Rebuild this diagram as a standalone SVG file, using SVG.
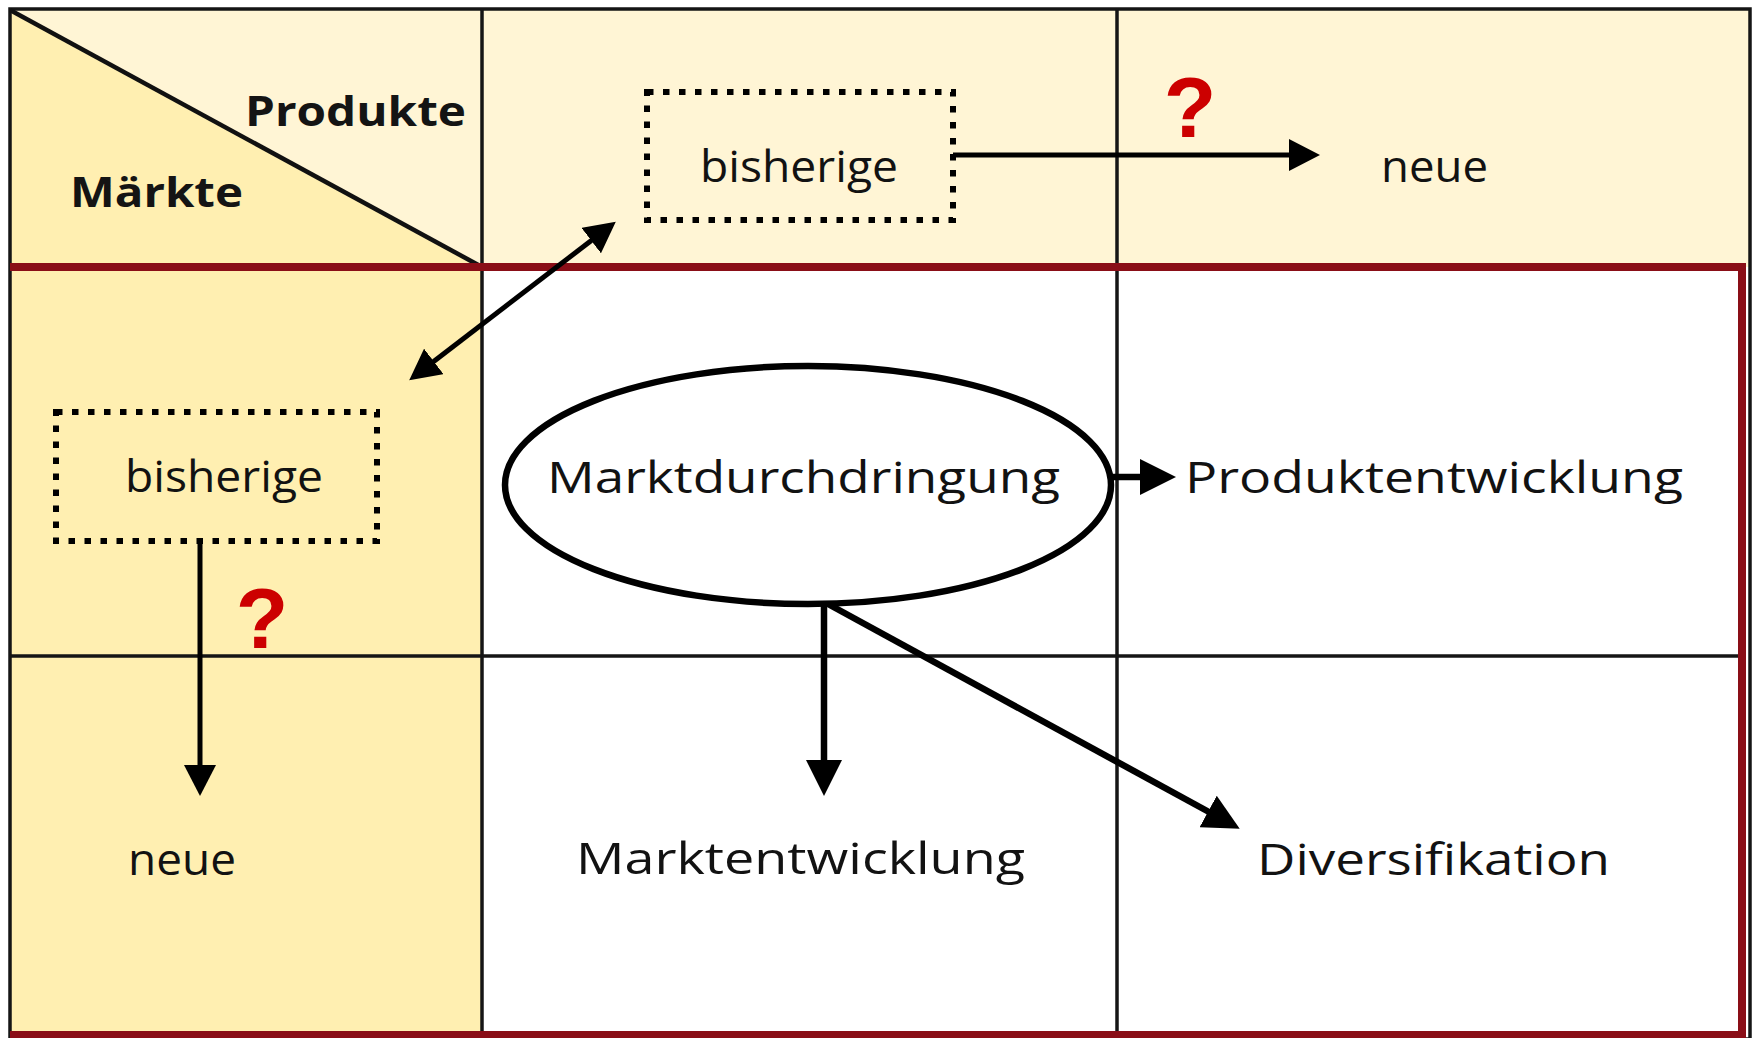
<svg xmlns="http://www.w3.org/2000/svg" width="1753" height="1038" viewBox="0 0 1753 1038">
<defs>
<style>
.grid{stroke:#151515;stroke-width:3.5;fill:none}
.diag{stroke:#111;stroke-width:4.5;fill:none}
.red{stroke:#8A0E17;stroke-width:8;fill:none}
.dot{fill:none;stroke:#000;stroke-width:6;stroke-dasharray:6.5 9.5}
.lbl{font-family:"Open Sans","Noto Sans","Liberation Sans",sans-serif;font-size:43px;font-weight:500;fill:#121212}
.hdr{font-family:"Open Sans","Noto Sans","Liberation Sans",sans-serif;font-size:42px;font-weight:700;fill:#141414}
.q{font-family:"Liberation Sans",Arial,sans-serif;font-size:86px;font-weight:700;fill:#CC0000;text-anchor:middle}
.c{stroke:#000;fill:none;stroke-width:5}
.cb{stroke:#000;fill:none;stroke-width:6.5}
</style>
<marker id="ah" markerUnits="userSpaceOnUse" markerWidth="31" markerHeight="32" viewBox="0 0 31 32" refX="1" refY="16" orient="auto-start-reverse"><path d="M0,0 L31,16 L0,32 z" fill="#000"/></marker>
<marker id="ahL" markerUnits="userSpaceOnUse" markerWidth="36" markerHeight="36" viewBox="0 0 36 36" refX="1" refY="18" orient="auto"><path d="M0,0 L36,18 L0,36 z" fill="#000"/></marker>
</defs>

<g id="background">
<rect x="0" y="0" width="1753" height="1038" fill="#ffffff"/>
<rect x="10" y="9" width="1740" height="258" fill="#FFF5D5"/>
<rect x="10" y="267" width="472" height="769" fill="#FFEFB1"/>
<polygon points="10,9 482,267 10,267" fill="#FFEFB1"/>
</g>

<g id="grid">
<rect class="grid" x="10" y="9" width="1740" height="1030"/>
<line class="grid" x1="482" y1="9" x2="482" y2="1038"/>
<line class="grid" x1="1117" y1="9" x2="1117" y2="1038"/>
<line class="grid" x1="10" y1="656" x2="1742" y2="656"/>
<line class="diag" x1="10" y1="10" x2="482" y2="267"/>
<polyline class="red" points="10,267 1742,267 1742,1035 10,1035"/>
</g>

<g id="header">
<text class="hdr" x="245" y="126" textLength="221" lengthAdjust="spacingAndGlyphs">Produkte</text>
<text class="hdr" x="70" y="207" textLength="173" lengthAdjust="spacingAndGlyphs">Märkte</text>
</g>

<g id="node-produkte-bisherige">
<rect class="dot" x="647" y="92" width="306" height="128"/>
<text class="lbl" x="700" y="182" textLength="198" lengthAdjust="spacingAndGlyphs">bisherige</text>
</g>

<g id="node-produkte-neue">
<text class="lbl" x="1381" y="182" textLength="107" lengthAdjust="spacingAndGlyphs">neue</text>
</g>

<g id="node-maerkte-bisherige">
<rect class="dot" x="56" y="412" width="321" height="129"/>
<text class="lbl" x="125" y="492" textLength="198" lengthAdjust="spacingAndGlyphs">bisherige</text>
</g>

<g id="node-maerkte-neue">
<text class="lbl" x="128" y="875" textLength="108" lengthAdjust="spacingAndGlyphs">neue</text>
</g>

<g id="node-marktdurchdringung">
<ellipse cx="808" cy="485" rx="303" ry="119" fill="#ffffff" stroke="#000" stroke-width="6.5"/>
<text class="lbl" x="547" y="493" textLength="513" lengthAdjust="spacingAndGlyphs">Marktdurchdringung</text>
</g>

<g id="node-produktentwicklung">
<text class="lbl" x="1185" y="493" textLength="498" lengthAdjust="spacingAndGlyphs">Produktentwicklung</text>
</g>

<g id="node-marktentwicklung">
<text class="lbl" x="576" y="874" textLength="449" lengthAdjust="spacingAndGlyphs">Marktentwicklung</text>
</g>

<g id="node-diversifikation">
<text class="lbl" x="1257" y="875" textLength="353" lengthAdjust="spacingAndGlyphs">Diversifikation</text>
</g>

<g id="questions">
<text class="q" x="1190" y="137">?</text>
<text class="q" x="262" y="648">?</text>
</g>

<g id="connectors">
<line class="c" x1="953" y1="155" x2="1290" y2="155" marker-end="url(#ah)"/>
<line class="c" x1="592" y1="240" x2="433" y2="362" marker-start="url(#ah)" marker-end="url(#ah)"/>
<line class="c" x1="200" y1="541" x2="200" y2="766" marker-end="url(#ah)"/>
<line class="cb" x1="1111" y1="477" x2="1141" y2="477" marker-end="url(#ahL)"/>
<line class="cb" x1="824" y1="604" x2="824" y2="761" marker-end="url(#ahL)"/>
<line class="cb" x1="828" y1="604" x2="1209" y2="812" marker-end="url(#ahL)"/>
</g>
</svg>
